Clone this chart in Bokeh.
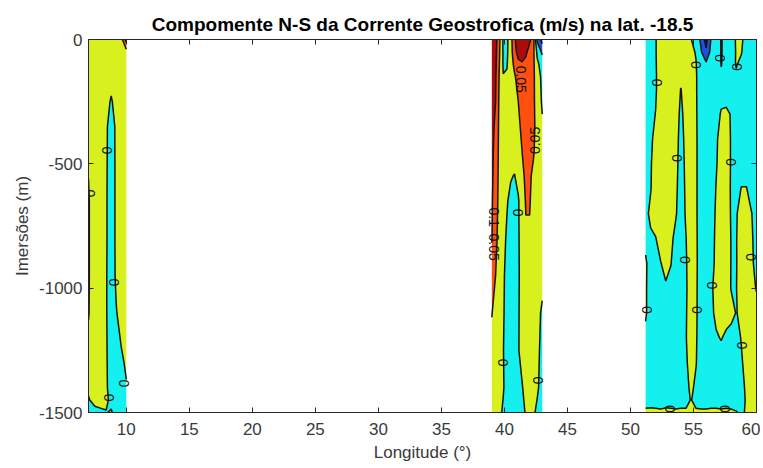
import numpy as np
from bokeh.plotting import figure
from bokeh.models import LinearAxis, FixedTicker, Range1d, ColumnDataSource
from bokeh.embed import file_html
from bokeh.resources import INLINE
from bokeh.core.properties import value

TITLE = "Compomente N-S da Corrente Geostrofica (m/s) na lat. -18.5"
X_LABEL = "Longitude (°)"
Y_LABEL = "Imersões (m)"
X_TICKS = [10, 15, 20, 25, 30, 35, 40, 45, 50, 55, 60]
Y_TICKS = [-1500, -1000, -500, 0]

LEVELS = [-1.0, -0.1, -0.05, 0.0, 0.05, 0.1, 1.0]
LEVEL_COLORS = ["#0A0A96", "#1E50DC", "#14F0EE", "#D8F01E", "#FF5010", "#AA0C0C"]

# ---- region 1 : lon 7-10 ----
R1_LON = [7.0, 7.5, 8.0, 8.4, 8.8, 9.2, 9.6, 10.0]
R1_DEPTH = [0, -50, -150, -250, -350, -500, -650, -800, -950, -1100, -1200, -1300, -1400, -1450, -1500]
R1_VAL = [
    [0.02, 0.02, 0.02, 0.02, 0.02, 0.02, 0.03, 0.12],
    [0.02, 0.02, 0.02, 0.02, 0.02, 0.02, 0.02, 0.03],
    [0.02, 0.02, 0.02, 0.015, 0.01, 0.015, 0.02, 0.02],
    [0.015, 0.02, 0.02, 0.01, -0.003, 0.01, 0.02, 0.02],
    [0.01, 0.02, 0.02, 0.005, -0.015, 0.006, 0.02, 0.02],
    [0.002, 0.02, 0.02, 0.005, -0.02, 0.007, 0.02, 0.02],
    [-0.003, 0.02, 0.02, 0.004, -0.02, 0.007, 0.02, 0.02],
    [-0.003, 0.02, 0.02, 0.004, -0.02, 0.007, 0.02, 0.02],
    [-0.003, 0.02, 0.02, 0.003, -0.02, 0.006, 0.015, 0.02],
    [-0.002, 0.02, 0.02, 0.003, -0.02, -0.002, 0.012, 0.02],
    [0.005, 0.02, 0.02, 0.004, -0.02, -0.01, 0.003, 0.012],
    [0.01, 0.02, 0.015, 0.005, -0.02, -0.015, -0.005, 0.004],
    [0.004, 0.015, 0.01, 0.005, -0.015, -0.015, -0.01, -0.002],
    [-0.002, 0.008, 0.008, 0.004, -0.005, -0.01, -0.01, -0.01],
    [-0.01, -0.008, -0.004, -0.001, 0.002, -0.008, -0.01, -0.01],
]

# ---- region 2 : lon 39-43 ----
R2_LON = [39.0, 39.3, 39.6, 39.9, 40.2, 40.5, 40.8, 41.1, 41.4, 41.7, 42.0, 42.3, 42.6, 43.0]
R2_DEPTH = [0, -50, -100, -150, -250, -350, -450, -550, -650, -800, -950, -1100, -1250, -1400, -1500]
R2_VAL = [
    [0.14, 0.12, 0.06, -0.005, -0.01, 0.03, 0.09, 0.14, 0.15, 0.14, 0.11, 0.07, -0.06, -0.12],
    [0.135, 0.115, 0.055, -0.004, -0.008, 0.03, 0.08, 0.12, 0.12, 0.11, 0.08, 0.06, -0.01, -0.06],
    [0.13, 0.11, 0.05, -0.003, -0.003, 0.03, 0.06, 0.085, 0.095, 0.085, 0.075, 0.06, 0.01, -0.02],
    [0.125, 0.105, 0.045, 0.001, 0.005, 0.03, 0.045, 0.065, 0.08, 0.075, 0.07, 0.06, 0.02, -0.01],
    [0.12, 0.1, 0.04, 0.02, 0.02, 0.025, 0.035, 0.05, 0.07, 0.075, 0.07, 0.06, 0.025, -0.005],
    [0.115, 0.09, 0.038, 0.02, 0.02, 0.02, 0.03, 0.04, 0.06, 0.07, 0.068, 0.062, 0.03, 0.005],
    [0.11, 0.085, 0.036, 0.02, 0.015, 0.015, 0.02, 0.03, 0.05, 0.065, 0.062, 0.055, 0.03, 0.01],
    [0.108, 0.08, 0.034, 0.02, 0.01, 0.003, -0.002, 0.015, 0.04, 0.058, 0.057, 0.04, 0.02, 0.01],
    [0.105, 0.075, 0.032, 0.015, 0.003, -0.01, -0.015, -0.005, 0.03, 0.053, 0.053, 0.035, 0.02, 0.01],
    [0.102, 0.065, 0.028, 0.01, -0.005, -0.015, -0.015, -0.005, 0.02, 0.045, 0.045, 0.03, 0.02, 0.01],
    [0.085, 0.05, 0.022, 0.005, -0.01, -0.015, -0.015, -0.005, 0.015, 0.03, 0.03, 0.025, 0.015, 0.008],
    [0.052, 0.032, 0.015, 0.003, -0.01, -0.015, -0.012, -0.003, 0.012, 0.02, 0.02, 0.015, 0.008, -0.004],
    [0.035, 0.025, 0.01, 0.001, -0.01, -0.015, -0.01, -0.002, 0.01, 0.015, 0.015, 0.012, 0.005, -0.006],
    [0.03, 0.02, 0.008, 0.002, -0.008, -0.015, -0.012, -0.008, -0.002, 0.01, 0.012, 0.01, 0.003, -0.008],
    [0.02, 0.012, 0.005, -0.003, -0.01, -0.015, -0.015, -0.012, -0.006, 0.002, 0.006, 0.003, -0.004, -0.01],
]

# ---- region 3 : lon 51.2-60 ----
R3_LON = [51.2, 51.6, 52.0, 52.4, 52.8, 53.2, 53.6, 54.0, 54.4, 54.8, 55.2, 55.6,
          56.0, 56.4, 56.8, 57.2, 57.6, 58.0, 58.4, 58.8, 59.2, 59.6, 60.0]
R3_DEPTH = [0, -50, -100, -150, -200, -300, -400, -500, -600, -700, -800, -900,
            -1000, -1100, -1200, -1300, -1400, -1450, -1500]
R3_VAL = [
    [-0.02, -0.015, -0.002, 0.02, 0.025, 0.025, 0.02, 0.02, 0.015, 0.002, -0.02, -0.06, -0.12, -0.045, -0.02, 0.002, -0.01, -0.008, 0.002, 0.004, -0.01, -0.015, -0.015],
    [-0.02, -0.012, -0.002, 0.02, 0.025, 0.025, 0.02, 0.02, 0.015, 0.01, -0.003, -0.045, -0.09, -0.035, -0.02, 0.002, -0.01, -0.006, 0.001, 0.001, -0.01, -0.015, -0.015],
    [-0.02, -0.01, -0.003, 0.02, 0.025, 0.025, 0.02, 0.02, 0.018, 0.015, 0.002, -0.03, -0.04, -0.025, -0.02, 0.001, -0.01, -0.005, 0.001, -0.004, -0.01, -0.015, -0.015],
    [-0.02, -0.012, -0.004, 0.02, 0.025, 0.025, 0.02, 0.008, 0.018, 0.02, 0.004, -0.025, -0.03, -0.025, -0.02, -0.004, -0.01, -0.006, -0.002, -0.006, -0.012, -0.015, -0.015],
    [-0.02, -0.012, -0.004, 0.02, 0.025, 0.025, 0.015, -0.001, 0.015, 0.02, 0.004, -0.025, -0.025, -0.025, -0.02, -0.008, -0.008, -0.008, -0.006, -0.008, -0.012, -0.015, -0.015],
    [-0.018, -0.01, 0.001, 0.02, 0.025, 0.025, 0.012, -0.006, 0.01, 0.02, 0.004, -0.02, -0.025, -0.02, -0.008, 0.002, 0.003, -0.001, -0.01, -0.012, -0.015, -0.015, -0.015],
    [-0.015, -0.005, 0.008, 0.02, 0.025, 0.025, 0.01, -0.01, 0.008, 0.02, 0.005, -0.02, -0.025, -0.02, -0.004, 0.01, 0.01, -0.002, -0.012, -0.015, -0.015, -0.015, -0.015],
    [-0.012, -0.002, 0.01, 0.02, 0.025, 0.025, 0.008, -0.012, 0.006, 0.02, 0.005, -0.02, -0.025, -0.015, -0.002, 0.01, 0.01, -0.002, -0.012, -0.012, -0.012, -0.015, -0.015],
    [-0.01, -0.001, 0.01, 0.02, 0.025, 0.025, 0.006, -0.015, 0.005, 0.02, 0.005, -0.02, -0.025, -0.012, 0.001, 0.012, 0.012, -0.003, -0.01, 0.001, 0.001, -0.01, -0.015],
    [-0.005, 0.004, 0.012, 0.02, 0.025, 0.02, 0.003, -0.018, 0.004, 0.02, 0.005, -0.02, -0.025, -0.01, 0.003, 0.012, 0.01, -0.002, -0.002, 0.01, 0.012, 0.001, -0.01],
    [-0.004, -0.003, -0.001, 0.012, 0.018, 0.008, -0.01, -0.02, -0.001, 0.018, 0.006, -0.02, -0.025, -0.008, 0.004, 0.012, 0.01, -0.001, -0.001, 0.012, 0.015, 0.003, -0.008],
    [0.002, -0.006, -0.008, -0.001, 0.01, 0.001, -0.012, -0.02, -0.003, 0.016, 0.006, -0.018, -0.022, -0.006, 0.004, 0.012, 0.01, -0.001, -0.001, 0.01, 0.015, 0.003, -0.005],
    [0.002, -0.008, -0.01, -0.008, -0.004, -0.008, -0.015, -0.02, -0.004, 0.015, 0.005, -0.018, -0.02, -0.002, 0.004, 0.012, 0.008, -0.001, -0.0005, 0.01, 0.015, 0.005, -0.001],
    [0.002, -0.008, -0.012, -0.012, -0.01, -0.012, -0.015, -0.018, -0.002, 0.012, 0.004, -0.015, -0.018, -0.004, 0.004, 0.01, 0.008, 0.006, -0.001, 0.005, 0.012, 0.01, 0.006],
    [-0.004, -0.01, -0.012, -0.012, -0.012, -0.012, -0.015, -0.015, -0.001, 0.01, 0.003, -0.015, -0.018, -0.01, -0.002, 0.001, -0.004, -0.008, -0.006, 0.001, 0.01, 0.012, 0.008],
    [-0.006, -0.01, -0.012, -0.012, -0.012, -0.012, -0.012, -0.012, -0.003, 0.008, 0.001, -0.012, -0.015, -0.012, -0.01, -0.008, -0.008, -0.008, -0.008, -0.002, 0.006, 0.012, 0.01],
    [-0.008, -0.01, -0.01, -0.01, -0.01, -0.01, -0.01, -0.01, -0.006, 0.004, -0.004, -0.012, -0.012, -0.012, -0.01, -0.01, -0.01, -0.01, -0.01, -0.005, 0.003, 0.01, 0.01],
    [-0.008, -0.008, -0.008, -0.008, -0.008, -0.008, -0.008, -0.008, -0.006, 0.001, -0.006, -0.01, -0.01, -0.01, -0.008, -0.008, -0.008, -0.008, -0.008, -0.006, 0.002, 0.008, 0.008],
    [0.004, 0.005, 0.004, 0.003, 0.005, 0.004, 0.003, 0.004, 0.003, 0.005, 0.003, 0.004, 0.004, 0.005, 0.004, 0.003, 0.004, 0.003, 0.001, -0.003, 0.002, 0.006, 0.006],
]

# ---- contour labels ----
LABEL_LON = [7.12, 8.45, 9.05, 9.78, 8.6,
             41.05, 39.9, 42.68, 41.3, 42.45, 39.17, 39.17,
             52.1, 55.2, 57.1, 58.45, 53.7, 58.0, 54.3, 59.55, 51.35, 55.26, 56.45, 58.85, 53.15, 57.5]
LABEL_DEPTH = [-619, -446, -977, -1383, -1440,
               -696, -1299, -1371, -160, -406, -715, -835,
               -173, -102, -75, -110, -477, -493, -886, -875, -1087, -1087, -989, -1230, -1485, -1485]
LABEL_TEXT = ["0", "0", "0", "0", "0",
              "0", "0", "0", "0.05", "0.05", "0.1", "0.05",
              "0", "0", "0", "0", "0", "0", "0", "0", "0", "0", "0", "0", "0", "0"]
LABEL_ANGLE = [1.5708] * 8 + [-1.5708, 1.5708, -1.5708, -1.5708] + [1.5708] * 14

FONT = "Liberation Sans"

p = figure(width=760, height=468, x_range=Range1d(7, 60), y_range=Range1d(-1500, 0),
           output_backend="svg", toolbar_location=None,
           min_border_left=88, min_border_right=4, min_border_top=39, min_border_bottom=56)

for lons, depths, rows in [(R1_LON, R1_DEPTH, R1_VAL), (R2_LON, R2_DEPTH, R2_VAL), (R3_LON, R3_DEPTH, R3_VAL)]:
    x = np.array(lons, dtype=float)
    y = np.array(depths, dtype=float)[::-1]
    z = np.array(rows, dtype=float)[::-1, :]
    p.contour(x, y, z, LEVELS, fill_color=LEVEL_COLORS, line_color="#141414", line_width=1.5)

src = ColumnDataSource(dict(x=LABEL_LON, y=LABEL_DEPTH, t=LABEL_TEXT, a=LABEL_ANGLE))
p.text(x="x", y="y", text="t", angle="a", source=src, text_font=value(FONT),
       text_font_size="14px", text_align="center", text_baseline="middle", text_color="#111111")

p.grid.visible = False
p.background_fill_color = "white"
p.border_fill_color = "white"
p.outline_line_color = "#262626"

p.title.text = TITLE
p.title.align = "center"
p.title.offset = -4
p.title.text_font = FONT
p.title.text_font_size = "19px"
p.title.text_font_style = "bold"
p.title.text_color = "#000000"

for ax in (p.xaxis[0], p.yaxis[0]):
    ax.major_label_text_font = FONT
    ax.major_label_text_font_size = "17px"
    ax.major_label_text_color = "#3a3a3a"
    ax.axis_label_text_font = FONT
    ax.axis_label_text_font_size = "17px"
    ax.axis_label_text_font_style = "normal"
    ax.axis_label_text_color = "#3a3a3a"
    ax.major_tick_in = 5
    ax.major_tick_out = 0
    ax.minor_tick_line_color = None
    ax.axis_line_color = "#262626"
    ax.major_tick_line_color = "#262626"

p.xaxis[0].ticker = FixedTicker(ticks=X_TICKS)
p.yaxis[0].ticker = FixedTicker(ticks=Y_TICKS)
p.xaxis[0].axis_label = X_LABEL
p.yaxis[0].axis_label = Y_LABEL
p.xaxis[0].major_label_standoff = 10
p.xaxis[0].axis_label_standoff = 5
p.yaxis[0].major_label_standoff = 6
p.yaxis[0].axis_label_standoff = 4
p.yaxis[0].major_label_overrides = {t: str(t) for t in Y_TICKS}

top = LinearAxis(ticker=FixedTicker(ticks=X_TICKS), major_label_overrides={t: "" for t in X_TICKS},
                 major_label_standoff=0, major_tick_in=5, major_tick_out=0,
                 minor_tick_line_color=None, axis_line_color="#262626", major_tick_line_color="#262626")
right = LinearAxis(ticker=FixedTicker(ticks=Y_TICKS), major_label_overrides={t: "" for t in Y_TICKS},
                   major_label_standoff=0, major_tick_in=5, major_tick_out=0,
                   minor_tick_line_color=None, axis_line_color="#262626", major_tick_line_color="#262626")
p.add_layout(top, "above")
p.add_layout(right, "right")

open("out.html", "w").write(file_html(p, INLINE))
